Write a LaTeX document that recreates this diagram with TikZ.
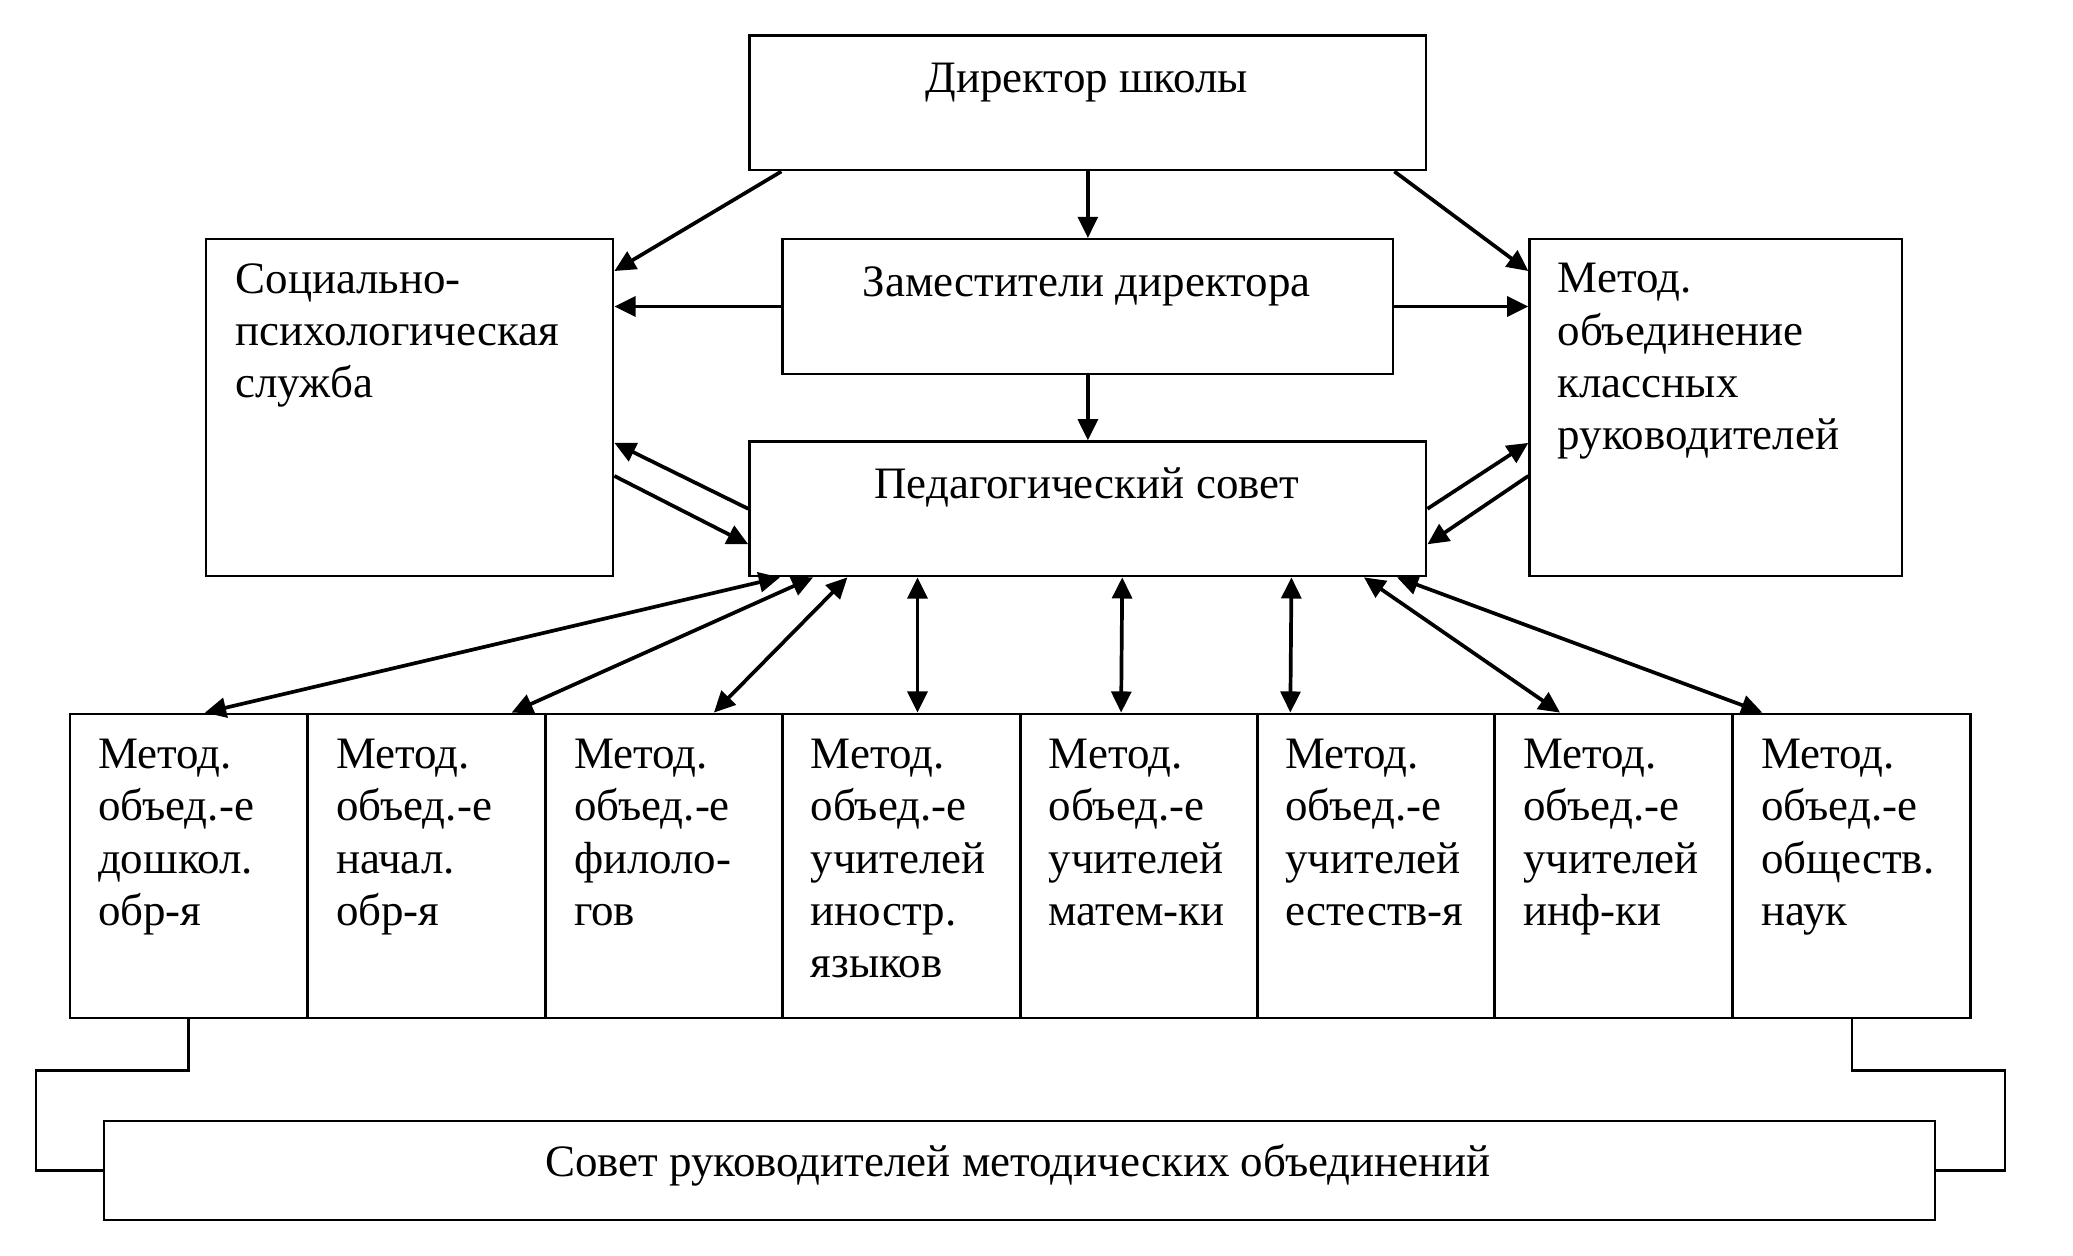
\documentclass[tikz,border=0pt]{standalone}
\usepackage{fontspec}
\setmainfont{Liberation Serif}
\usetikzlibrary{arrows.meta,calc}
\begin{document}
\begin{tikzpicture}[x=1pt,y=-1pt,
  box/.style={draw, line width=1.7pt, inner sep=0pt, anchor=north west},
  lbl/.style={font=\fontsize{34}{39.5}\selectfont, inner sep=0pt, align=left},
  arr/.style={line width=2.8pt, -{Triangle[length=16pt,width=15pt]}},
  dbl/.style={line width=2.8pt, {Triangle[length=16pt,width=15pt]}-{Triangle[length=16pt,width=15pt]}},
  conn/.style={line width=1.7pt}]
\useasboundingbox (0,0) rectangle (1568,950);
% boxes
\node[box, minimum width=512pt, minimum height=102pt] (dir) at (566,26) {};
\node[box, minimum width=308pt, minimum height=255pt] (soc) at (155,180) {};
\node[box, minimum width=462pt, minimum height=102pt] (zam) at (591,180) {};
\node[box, minimum width=282pt, minimum height=255pt] (met) at (1156,180) {};
\node[box, minimum width=512pt, minimum height=102pt] (ped) at (566,333) {};
\foreach \i/\x in {1/52,2/232,3/412,4/591,5/771,6/950,7/1130,8/1310}{
  \node[box, minimum width=179.6pt, minimum height=230pt] (c\i) at (\x,539) {};
}
\node[box, minimum width=1385pt, minimum height=75pt] (sov) at (78,847) {};
% texts
\node[lbl, anchor=base] (tdir) at (822,70) {Директор школы};
\node[lbl, anchor=base] (tzam) at (822,224) {Заместители директора};
\node[lbl, anchor=base] (tped) at (822,377) {Педагогический совет};
\node[lbl, anchor=base] (tsov) at (770,890) {Совет руководителей методических объединений};
\node[lbl, anchor=north west] (tsoc) at (178,199) {Социально-\\психологическая\\служба};
\node[lbl, anchor=north west] (tmet) at (1178,199) {Метод.\\объединение\\классных\\руководителей};
\node[lbl, anchor=north west] (t1) at ($(c1.north west)+(22,20)$) {Метод.\\объед.-е\\дошкол.\\обр-я};
\node[lbl, anchor=north west] (t2) at ($(c2.north west)+(22,20)$) {Метод.\\объед.-е\\начал.\\обр-я};
\node[lbl, anchor=north west] (t3) at ($(c3.north west)+(22,20)$) {Метод.\\объед.-е\\филоло-\\гов};
\node[lbl, anchor=north west] (t4) at ($(c4.north west)+(22,20)$) {Метод.\\объед.-е\\учителей\\иностр.\\языков};
\node[lbl, anchor=north west] (t5) at ($(c5.north west)+(22,20)$) {Метод.\\объед.-е\\учителей\\матем-ки};
\node[lbl, anchor=north west] (t6) at ($(c6.north west)+(22,20)$) {Метод.\\объед.-е\\учителей\\естеств-я};
\node[lbl, anchor=north west] (t7) at ($(c7.north west)+(22,20)$) {Метод.\\объед.-е\\учителей\\инф-ки};
\node[lbl, anchor=north west] (t8) at ($(c8.north west)+(22,20)$) {Метод.\\объед.-е\\обществ.\\наук};
% arrows from director
\draw[arr] ($(dir.south west)+(25,0)$) -- ($(soc.north east)+(0,25)$);
\draw[arr] (dir.south) -- (zam.north);
\draw[arr] ($(dir.south east)+(-25,0)$) -- ($(met.north west)+(0,25)$);
% from deputies
\draw[arr] (zam.west) -- (soc.east |- zam.west);
\draw[arr] (zam.east) -- (met.west |- zam.east);
\draw[arr] (zam.south) -- (ped.north);
% pedsovet <-> side boxes
\draw[arr] (ped.west) -- ($(soc.north east)+(0,155)$);
\draw[arr] ($(soc.north east)+(0,180)$) -- ($(ped.south west)+(0,-25)$);
\draw[arr] (ped.east) -- ($(met.north west)+(0,155)$);
\draw[arr] ($(met.north west)+(0,180)$) -- ($(ped.south east)+(0,-25)$);
% pedsovet <-> MO
\draw[dbl] ($(ped.south west)+(24,0)$) -- ($(c1.north west)+(103,0)$);
\draw[dbl] ($(ped.south west)+(49,0)$) -- ($(c2.north west)+(155,0)$);
\draw[dbl] ($(ped.south west)+(75,0)$) -- ($(c3.north west)+(128,0)$);
\draw[dbl] ($(ped.south west)+(128,0)$) -- ($(c4.north west)+(103,0)$);
\draw[dbl] ($(ped.south)+(26,0)$) -- ($(c5.north west)+(77,0)$);
\draw[dbl] ($(ped.south)+(154,0)$) -- ($(c6.north west)+(26,0)$);
\draw[dbl] ($(ped.south east)+(-48,0)$) -- ($(c7.north west)+(50,0)$);
\draw[dbl] ($(ped.south east)+(-23,0)$) -- ($(c8.north west)+(23,0)$);
% MO -> council
\draw[conn] (c1.south) -- ++(0,39) -| ($(sov.west)+(-51,0)$) -- (sov.west);
\draw[conn] (c8.south) -- ++(0,39) -| ($(sov.east)+(52,0)$) -- (sov.east);
\end{tikzpicture}
\end{document}
